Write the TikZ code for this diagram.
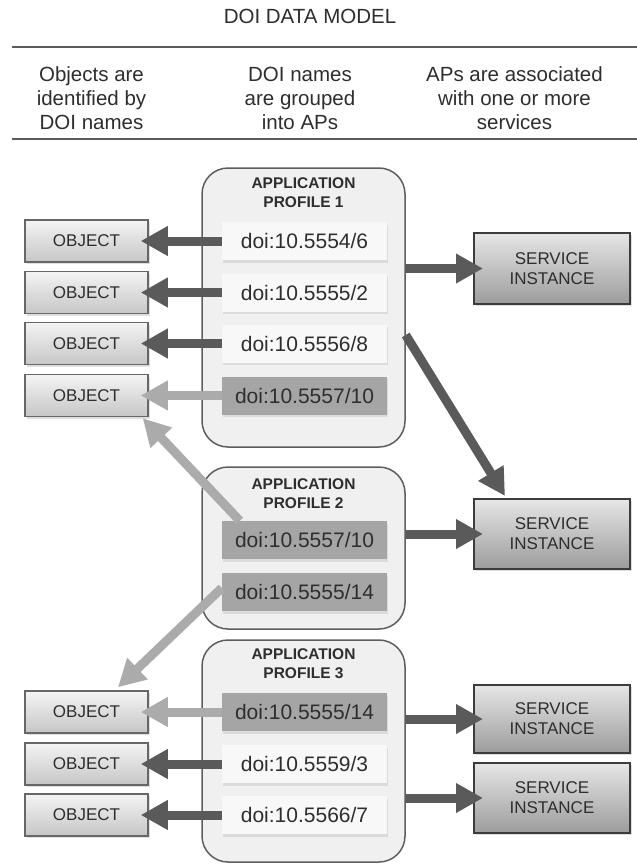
\documentclass[tikz,border=0pt]{standalone}
\usepackage{fontspec}
\setmainfont{Liberation Sans}
\usetikzlibrary{arrows.meta,shadows,calc}
\definecolor{txt}{HTML}{2E2E2E}
\definecolor{darkarr}{HTML}{5A5A5A}
\definecolor{lightarr}{HTML}{ABABAB}
\definecolor{hlfill}{HTML}{A5A5A5}
\definecolor{doifill}{HTML}{F8F8F8}
\definecolor{apfill}{HTML}{F0F0F0}
\definecolor{apborder}{HTML}{5E5E5E}
\definecolor{objtop}{HTML}{F4F4F4}
\definecolor{objbot}{HTML}{C6C6C6}
\definecolor{objborder}{HTML}{676767}
\definecolor{sitop}{HTML}{E6E6E6}
\definecolor{sibot}{HTML}{9C9C9C}
\definecolor{siborder}{HTML}{3C3C3C}
\definecolor{rulecol}{HTML}{5C5C5C}
\begin{document}
\begin{tikzpicture}[x=1pt,y=-1pt,
  hdr/.style={align=center, inner sep=0pt, text=txt, font=\fontsize{20.5}{24}\selectfont},
  rulestyle/.style={draw=rulecol, line width=2.5pt},
  apbox/.style={draw=apborder, line width=1.5pt, rounded corners=26pt, fill=apfill, minimum width=203pt, inner sep=0pt},
  aptitle/.style={align=center, inner sep=0pt, text=txt, font=\bfseries\fontsize{15.5}{19}\selectfont},
  doibox/.style={fill=doifill, minimum width=165pt, minimum height=38pt, inner sep=0pt, text=txt,
    font=\fontsize{21}{24}\selectfont, drop shadow={shadow xshift=1pt, shadow yshift=-2.5pt, fill=black!22}},
  hlbox/.style={doibox, fill=hlfill},
  objbox/.style={draw=objborder, line width=1.5pt, top color=objtop, bottom color=objbot, minimum width=123pt,
    minimum height=42pt, inner sep=0pt, text=txt, font=\fontsize{17}{20}\selectfont,
    drop shadow={shadow xshift=1.5pt, shadow yshift=-2pt, fill=black!25}},
  sibox/.style={draw=siborder, line width=2pt, top color=sitop, bottom color=sibot, minimum width=156pt,
    inner sep=0pt, align=center, text=txt, font=\fontsize{17}{20}\selectfont,
    drop shadow={shadow xshift=2pt, shadow yshift=-2pt, fill=black!25}},
  darrow/.style={draw=darkarr, line width=9pt, -{Triangle[length=27pt,width=28pt]}},
  larrow/.style={draw=lightarr, line width=9pt, -{Triangle[length=27pt,width=28pt]}}
]
\useasboundingbox[fill=white] (0,0) rectangle (637,865);

% title and header
\node[hdr] (title) at (310,16) {DOI DATA MODEL};
\draw[rulestyle] (12,47) -- (637,47);
\draw[rulestyle] (12,139) -- (637,139);
\node[hdr] (h1) at (91.5,98) {Objects are\\identified by\\DOI names};
\node[hdr] (h2) at (300,98) {DOI names\\are grouped\\into APs};
\node[hdr] (h3) at (514.5,98) {APs are associated\\with one or more\\services};

% application profiles
\node[apbox, minimum height=279pt] (ap1) at (303.5,307.5) {};
\node[apbox, minimum height=162pt] (ap2) at (303.5,548) {};
\node[apbox, minimum height=222pt] (ap3) at (303.5,751) {};
\node[aptitle] (t1) at (303.5,193) {APPLICATION\\PROFILE 1};
\node[aptitle] (t2) at (303.5,494) {APPLICATION\\PROFILE 2};
\node[aptitle] (t3) at (303.5,664) {APPLICATION\\PROFILE 3};

% doi boxes
\node[doibox] (d11) at (304.5,241) {doi:10.5554/6};
\node[doibox] (d12) at (304.5,292.5) {doi:10.5555/2};
\node[doibox] (d13) at (304.5,343.5) {doi:10.5556/8};
\node[hlbox]  (d14) at (304.5,395.5) {doi:10.5557/10};
\node[hlbox]  (d21) at (304.5,540) {doi:10.5557/10};
\node[hlbox]  (d22) at (304.5,592) {doi:10.5555/14};
\node[hlbox]  (d31) at (304.5,712) {doi:10.5555/14};
\node[doibox] (d32) at (304.5,764) {doi:10.5559/3};
\node[doibox] (d33) at (304.5,815) {doi:10.5566/7};

% objects
\node[objbox] (o1) at (86.5,241) {OBJECT};
\node[objbox] (o2) at (86.5,292.5) {OBJECT};
\node[objbox] (o3) at (86.5,343.5) {OBJECT};
\node[objbox] (o4) at (86.5,395.5) {OBJECT};
\node[objbox] (o5) at (86.5,712) {OBJECT};
\node[objbox] (o6) at (86.5,764) {OBJECT};
\node[objbox] (o7) at (86.5,815) {OBJECT};

% service instances
\node[sibox, minimum height=71pt] (s1) at (552,268.5) {SERVICE\\INSTANCE};
\node[sibox, minimum height=70pt] (s2) at (552,534) {SERVICE\\INSTANCE};
\node[sibox, minimum height=68pt] (s3) at (552,719) {SERVICE\\INSTANCE};
\node[sibox, minimum height=70pt] (s4) at (552,798) {SERVICE\\INSTANCE};

% arrows to objects
\draw[darrow] (d11.west) -- ($(o1.east)+(-8,0)$);
\draw[darrow] (d12.west) -- ($(o2.east)+(-8,0)$);
\draw[darrow] (d13.west) -- ($(o3.east)+(-8,0)$);
\draw[larrow] (d14.west) -- ($(o4.east)+(-8,0)$);
\draw[larrow] (d31.west) -- ($(o5.east)+(-8,0)$);
\draw[darrow] (d32.west) -- ($(o6.east)+(-8,0)$);
\draw[darrow] (d33.west) -- ($(o7.east)+(-8,0)$);
\draw[larrow] ($(d21.north west)+(18,0)$) -- ($(o4.south east)+(-6,1)$);
\draw[larrow] ($(d22.west)+(0,-4)$) -- ($(o5.north)+(31.5,-3)$);

% arrows to services
\draw[darrow] (ap1.east |- s1.center) -- ($(s1.west)+(10,0)$);
\draw[darrow] ($(ap1.east)+(0,27.5)$) -- ($(s2.north)+(-47,-2)$);
\draw[darrow] (ap2.east |- s2.center) -- ($(s2.west)+(10,0)$);
\draw[darrow] (ap3.east |- s3.center) -- ($(s3.west)+(10,0)$);
\draw[darrow] (ap3.east |- s4.center) -- ($(s4.west)+(10,0)$);
\end{tikzpicture}
\end{document}
